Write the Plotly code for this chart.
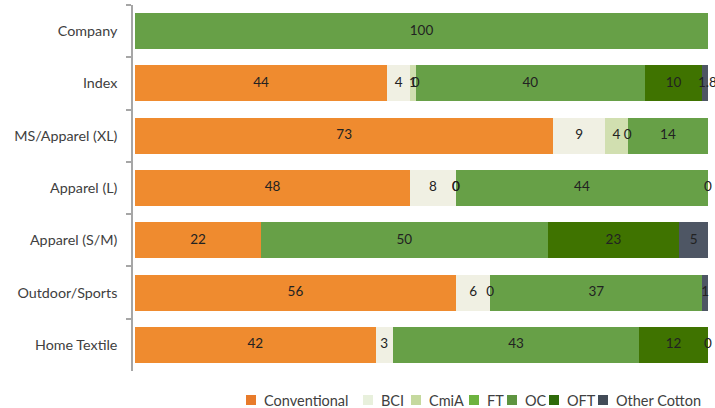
import plotly.graph_objects as go

categories = ["Company", "Index", "MS/Apparel (XL)", "Apparel (L)",
              "Apparel (S/M)", "Outdoor/Sports", "Home Textile"]

series_names = ["Conventional", "BCI", "CmiA", "FT", "OC", "OFT", "Other Cotton"]

conventional = [None, 44, 73, 48, 22, 56, 42]
bci          = [None, 4, 9, 8, None, 6, 3]
cmia         = [None, 1, 4, 0, None, None, None]
ft           = [None, 0, 0, 0, None, 0, None]
oc           = [100, 40, 14, 44, 50, 37, 43]
oft          = [None, 10, 1, None, 23, None, 12]
other        = [None, 1.8, 0, 0, 5, 1, 0]

series_values = [conventional, bci, cmia, ft, oc, oft, other]
colors = ["#EF8B2F", "#F0F0E3", "#D1DFB0", "#6DB33F", "#67A047", "#3F7300", "#4E5664"]
legend_colors = ["#E87B2A", "#E8F0DC", "#C5D99E", "#6DB33F", "#5E9440", "#2F6A0A", "#424B57"]

FONT = "Lato"
W, H = 715, 408
ML, MR, MT, MB = 133, 7, 5, 37

fig = go.Figure()
for name, vals, col in zip(series_names, series_values, colors):
    fig.add_trace(go.Bar(
        y=categories, x=[v if v is not None else 0 for v in vals],
        name=name, orientation="h", marker=dict(color=col, line=dict(width=0)),
        hoverinfo="x+name", showlegend=False))

# label positions computed from cumulative sums of the data
lx, ly, lt = [], [], []
for ci, cat in enumerate(categories):
    start = 0
    for vals in series_values:
        v = vals[ci]
        if v is None:
            continue
        lx.append(start + v / 2)
        ly.append(cat)
        lt.append(str(int(v)) if float(v).is_integer() else f"{v:g}")
        start += v

fig.add_trace(go.Scatter(x=lx, y=ly, text=lt, mode="text", showlegend=False,
                         hoverinfo="skip", cliponaxis=False,
                         textfont=dict(family=FONT, size=13.5, color="#222222")))

# manual legend (layout positions in pixels -> paper coords)
pw = W - ML - MR
ph = H - MT - MB
legend_px = [246, 363, 411, 469, 507, 549, 598]
legend_cy = 400
def px2x(px):
    return (px - ML) / pw
def py2y(py):
    return (H - MB - py) / ph

shapes, annots = [], []
for name, col, lpx in zip(series_names, legend_colors, legend_px):
    shapes.append(dict(type="rect", xref="paper", yref="paper",
                       x0=px2x(lpx), x1=px2x(lpx + 10),
                       y0=py2y(legend_cy + 5), y1=py2y(legend_cy - 5),
                       fillcolor=col, line=dict(width=0)))
    annots.append(dict(xref="paper", yref="paper", x=px2x(lpx + 16), y=py2y(legend_cy),
                       xanchor="left", yanchor="middle", text=name, showarrow=False,
                       font=dict(family=FONT, size=14.5, color="#404040")))

fig.update_layout(
    width=W, height=H,
    barmode="stack", bargap=0.31,
    margin=dict(l=ML, r=MR, t=MT, b=MB, autoexpand=False),
    plot_bgcolor="white", paper_bgcolor="white",
    font=dict(family=FONT, size=14, color="#404040"),
    xaxis=dict(range=[-0.35, 100], visible=False, showgrid=False, zeroline=False),
    yaxis=dict(autorange="reversed", showline=True, linecolor="#A6A6A6", linewidth=1.5,
               ticks="outside", ticklen=5, tickcolor="#A6A6A6", tickwidth=1.5,
               tickson="boundaries", showgrid=False, ticklabelstandoff=11,
               tickfont=dict(family=FONT, size=14.3, color="#404040")),
    shapes=shapes, annotations=annots,
    showlegend=False,
)

fig.write_html("out.html")
